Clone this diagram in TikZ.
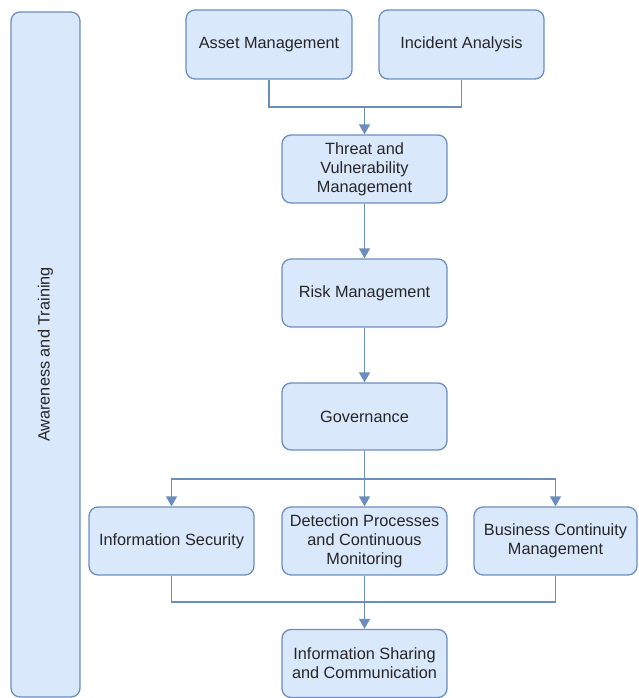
\documentclass[tikz,border=0pt]{standalone}
\usepackage{fontspec}
\setmainfont{Liberation Sans}
\usetikzlibrary{arrows.meta}
\definecolor{boxfill}{HTML}{DAE8FC}
\definecolor{boxline}{HTML}{6C8EBF}
\definecolor{txt}{HTML}{262626}
\begin{document}
\begin{tikzpicture}[x=1pt,y=-1pt,
  box/.style={draw=boxline, fill=boxfill, line width=1.3pt, rounded corners=9pt,
    minimum width=165pt, minimum height=68pt, align=center, text=txt,
    font=\fontsize{16.3}{19}\selectfont, inner sep=2pt},
  conn/.style={draw=boxline, line width=1.4pt},
  arr/.style={conn, -{Triangle[length=10pt,width=11pt]}}]
\useasboundingbox (0,0) rectangle (638,698);
\node[box, minimum width=69pt, minimum height=685pt] (bar) at (45.5,354.5) {};
\node[rotate=90, text=txt, font=\fontsize{16.3}{19}\selectfont] (bartxt) at (bar.center) {Awareness and Training};
\node[box, minimum width=166pt, minimum height=69pt] (asset) at (269,44.5) {Asset Management};
\node[box, minimum height=69pt] (incident) at (461.5,44.5) {Incident Analysis};
\node[box] (threat) at (364.5,169) {Threat and\\Vulnerability\\Management};
\node[box] (risk) at (364.5,293) {Risk Management};
\node[box, minimum height=67pt] (gov) at (364.5,416.5) {Governance};
\node[box] (infosec) at (171.5,541) {Information Security};
\node[box] (detect) at (364.5,541) {Detection Processes\\and Continuous\\Monitoring};
\node[box, minimum width=163pt] (business) at (555.5,541) {Business Continuity\\Management};
\node[box] (sharing) at (364.5,663.5) {Information Sharing\\and Communication};
\coordinate (j1) at (364.5,107);
\coordinate (j2) at (364.5,479);
\coordinate (j3) at (364.5,602);
\draw[conn] (asset.south) |- (j1);
\draw[conn] (incident.south) |- (j1);
\draw[arr] (j1) -- (threat.north);
\draw[arr] (threat.south) -- (risk.north);
\draw[arr] (risk.south) -- (gov.north);
\draw[conn] (gov.south) -- (j2);
\draw[arr] (j2) -| (infosec.north);
\draw[arr] (j2) -| (business.north);
\draw[arr] (j2) -- (detect.north);
\draw[conn] (infosec.south) |- (j3);
\draw[conn] (business.south) |- (j3);
\draw[arr] (detect.south) -- (sharing.north);
\end{tikzpicture}
\end{document}
